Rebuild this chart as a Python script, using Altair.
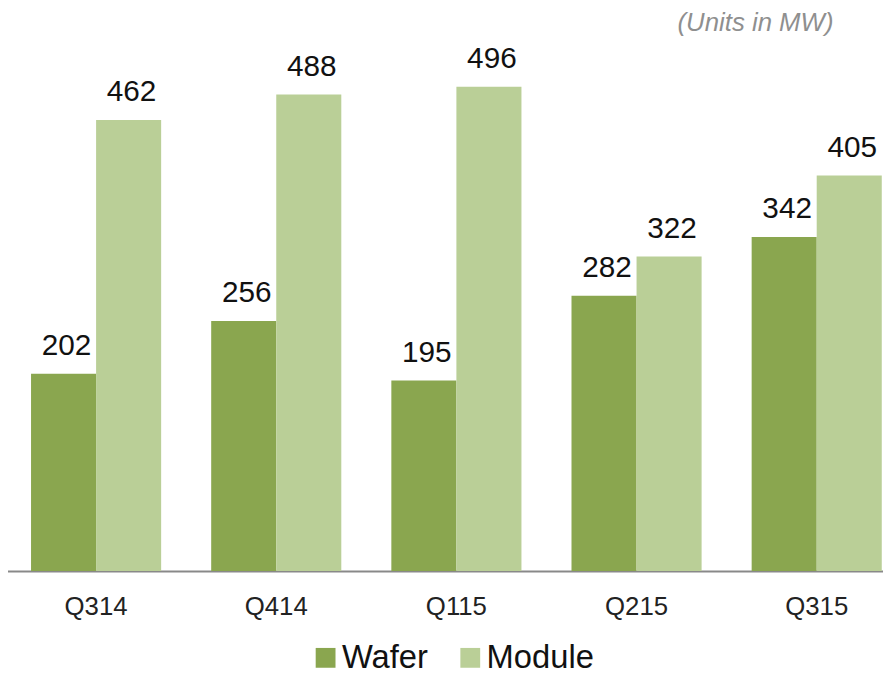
import altair as alt
import pandas as pd

quarters = ["Q314", "Q414", "Q115", "Q215", "Q315"]
wafer = [202, 256, 195, 282, 342]
module = [462, 488, 496, 322, 405]
series = ["Wafer", "Module"]
colors = ["#8AA64F", "#BACF97"]
note = ["(Units in MW)"]

rows = []
for q, w, m in zip(quarters, wafer, module):
    rows.append({"quarter": q, "series": "Wafer", "value": w})
    rows.append({"quarter": q, "series": "Module", "value": m})
df = pd.DataFrame(rows)

x = alt.X(
    "quarter:N", sort=quarters, title=None,
    scale=alt.Scale(range=[-2, 907], paddingInner=0.2778, paddingOuter=0.1389),
    axis=alt.Axis(labelAngle=0, ticks=False, labelFontSize=26, labelFont="Liberation Sans",
                  labelColor="#222222", labelPadding=23, domainColor="#898989", domainWidth=2,
                  grid=False),
)
xo = alt.XOffset("series:N", sort=series,
                 scale=alt.Scale(domain=series, paddingInner=0, paddingOuter=0))
y = alt.Y("value:Q", scale=alt.Scale(domain=[0, 531], nice=False, zero=True), axis=None)
color = alt.Color(
    "series:N", sort=series,
    scale=alt.Scale(domain=series, range=colors),
    legend=alt.Legend(title=None, orient="none", legendX=304, legendY=594,
                      direction="horizontal", symbolType="square", symbolSize=400,
                      symbolStrokeWidth=0, labelFontSize=33, labelFont="Liberation Sans",
                      labelColor="#111111", labelOffset=0, columnPadding=26, padding=0),
)

base = alt.Chart(df)
bars = base.mark_bar().encode(x=x, xOffset=xo, y=y, color=color)
labels = base.mark_text(dy=-19, dx=3, baseline="alphabetic", fontSize=30,
                        font="Liberation Sans", color="#111111").encode(
    x=x, xOffset=xo, y=y, text="value:Q")

unit = alt.Chart(pd.DataFrame({"t": note})).mark_text(
    align="right", baseline="alphabetic", fontSize=26, font="Liberation Sans",
    fontStyle="italic", color="#8f8f8f").encode(
    x=alt.value(833), y=alt.value(-22), text="t:N")

chart = alt.layer(bars, labels, unit).properties(
    width=883, height=523,
    autosize=alt.AutoSizeParams(type="none"),
    padding={"left": 0, "right": 0, "top": 42, "bottom": 99},
).configure_view(stroke=None)

chart.save("out.html", embed_options={"renderer": "svg", "actions": False})
